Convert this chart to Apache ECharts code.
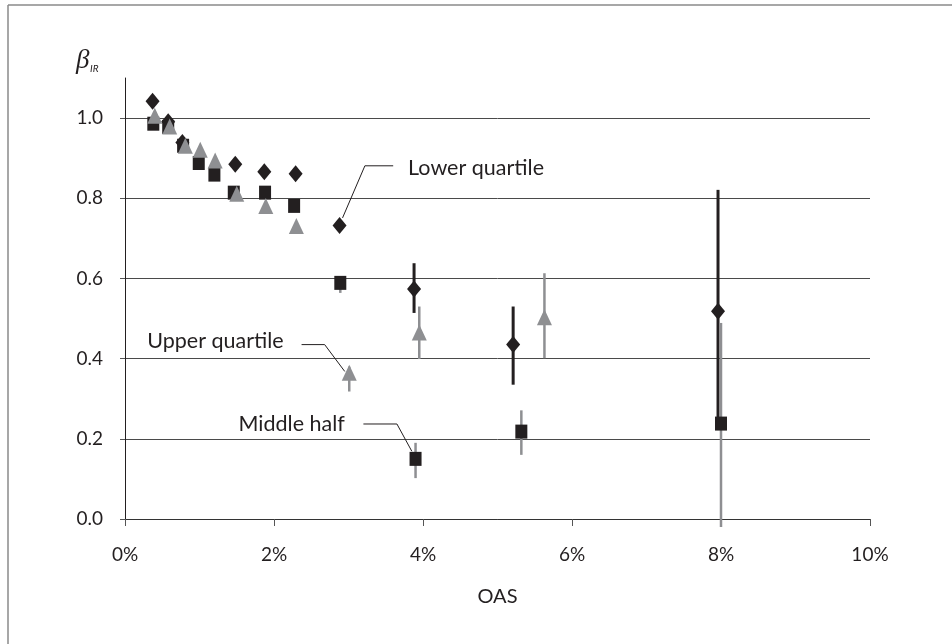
<!DOCTYPE html>
<html>
<head>
<meta charset="utf-8">
<title>Interest-rate beta by OAS</title>
<script src="https://cdn.jsdelivr.net/npm/echarts@6/dist/echarts.min.js"></script>
<style>
  html, body { margin: 0; padding: 0; background: #fff; }
  #chart { width: 952px; height: 644px; }
</style>
</head>
<body>
<div id="chart"></div>
<script>
// Lower quartile (diamonds)
const oasLower  = [0.37, 0.58, 0.77, 1.48, 1.87, 2.29, 2.88, 3.88, 5.21, 7.96];
const betaLower = [1.042, 0.991, 0.939, 0.885, 0.866, 0.861, 0.732, 0.574, 0.435, 0.518];
const lowerBarX    = [3.88, 5.21, 7.96];
const lowerBarLow  = [0.514, 0.335, 0.235];
const lowerBarHigh = [0.638, 0.530, 0.821];

// Middle half (squares)
const oasMiddle  = [0.38, 0.58, 0.78, 0.99, 1.20, 1.46, 1.88, 2.27, 2.89, 3.90, 5.32, 8.00];
const betaMiddle = [0.986, 0.978, 0.931, 0.888, 0.859, 0.814, 0.814, 0.781, 0.589, 0.150, 0.218, 0.238];
const middleBarX    = [2.89, 3.90, 5.32, 8.00];
const middleBarLow  = [0.564, 0.102, 0.160, -0.02];
const middleBarHigh = [0.600, 0.190, 0.271, 0.489];

// Upper quartile (triangles)
const oasUpper  = [0.40, 0.60, 0.81, 1.01, 1.21, 1.50, 1.89, 2.30, 3.01, 3.95, 5.63];
const betaUpper = [1.006, 0.979, 0.931, 0.921, 0.894, 0.811, 0.781, 0.731, 0.365, 0.465, 0.503];
const upperBarX    = [3.01, 3.95, 5.63];
const upperBarLow  = [0.318, 0.399, 0.401];
const upperBarHigh = [0.380, 0.530, 0.613];

// Axis ticks
const xTicks = [0, 2, 4, 6, 8, 10];
const yTicks = [0, 0.2, 0.4, 0.6, 0.8, 1.0];

// Callout labels and their leader lines (in axis units)
const noteText   = ['Lower quartile', 'Upper quartile', 'Middle half'];
const noteAnchor = [[3.80, 0.876], [2.13, 0.443], [2.95, 0.237]];
const noteAlign  = ['left', 'right', 'right'];
const notePath   = [
  [[3.60, 0.881], [3.22, 0.881], [2.92, 0.751]],
  [[2.37, 0.435], [2.68, 0.435], [2.95, 0.368]],
  [[3.20, 0.237], [3.65, 0.237], [3.85, 0.169]]
];

const BLACK = '#231f20';
const GREY = '#8e8f92';
const FONT = 'Lato';

const zip = (a, b) => a.map((v, i) => [v, b[i]]);

function errorBars(name, xs, lows, highs, color, width, z) {
  return {
    name: name,
    type: 'custom',
    z: z,
    clip: false,
    silent: true,
    encode: { x: 0, y: [1, 2] },
    data: xs.map((x, i) => [x, lows[i], highs[i]]),
    renderItem: function (params, api) {
      const a = api.coord([api.value(0), api.value(1)]);
      const b = api.coord([api.value(0), api.value(2)]);
      return {
        type: 'line',
        shape: { x1: a[0], y1: a[1], x2: b[0], y2: b[1] },
        style: { stroke: color, lineWidth: width }
      };
    }
  };
}

const chart = echarts.init(document.getElementById('chart'), null, { renderer: 'canvas' });

chart.setOption({
  animation: false,
  backgroundColor: '#ffffff',
  textStyle: { fontFamily: FONT },
  grid: { left: 125, right: 82, top: 78, bottom: 125, containLabel: false },
  xAxis: {
    type: 'value',
    min: 0, max: 10, interval: 2,
    name: 'OAS',
    nameLocation: 'middle',
    nameGap: 68,
    nameTextStyle: { fontFamily: FONT, fontSize: 20, color: BLACK },
    axisLine: { show: true, lineStyle: { color: '#333', width: 1 } },
    axisTick: { show: true, length: 7, customValues: xTicks, lineStyle: { color: '#555' } },
    axisLabel: {
      margin: 26, fontSize: 19, color: BLACK, fontFamily: FONT,
      customValues: xTicks,
      formatter: v => v + '%'
    },
    splitLine: { show: false }
  },
  yAxis: {
    type: 'value',
    min: 0, max: 1.1, interval: 0.2,
    axisLine: { show: true, onZero: false, lineStyle: { color: BLACK, width: 1 } },
    axisTick: { show: true, length: 5, customValues: yTicks, lineStyle: { color: '#555' } },
    axisLabel: {
      margin: 22, fontSize: 19, color: BLACK, fontFamily: FONT,
      customValues: yTicks,
      formatter: v => v.toFixed(1)
    },
    splitLine: { show: true, lineStyle: { color: '#4a4a4a', width: 1 } }
  },
  graphic: [
    { type: 'line', shape: { x1: 8, y1: 5, x2: 952, y2: 5 }, style: { stroke: '#8a8a8a', lineWidth: 1.5 } },
    { type: 'line', shape: { x1: 8, y1: 5, x2: 8, y2: 644 }, style: { stroke: '#8a8a8a', lineWidth: 1.5 } },
    {
      type: 'text', left: 76, top: 47,
      style: { text: 'β', font: 'italic 27px "Liberation Serif", serif', fill: BLACK }
    },
    {
      type: 'text', left: 90, top: 64,
      style: { text: 'IR', font: 'italic 10px Lato, sans-serif', fill: BLACK }
    }
  ],
  series: [
    errorBars('Lower quartile range', lowerBarX, lowerBarLow, lowerBarHigh, BLACK, 3, 2),
    errorBars('Middle half range', middleBarX, middleBarLow, middleBarHigh, GREY, 2.5, 3),
    errorBars('Upper quartile range', upperBarX, upperBarLow, upperBarHigh, GREY, 2.5, 3),
    {
      name: 'Middle half',
      type: 'scatter',
      z: 4,
      symbol: 'rect',
      symbolSize: [12, 14],
      itemStyle: { color: BLACK, opacity: 1 },
      data: zip(oasMiddle, betaMiddle)
    },
    {
      name: 'Lower quartile',
      type: 'scatter',
      z: 5,
      symbol: 'diamond',
      symbolSize: [14, 17],
      itemStyle: { color: BLACK, opacity: 1 },
      data: zip(oasLower, betaLower)
    },
    {
      name: 'Upper quartile',
      type: 'scatter',
      z: 6,
      symbol: 'triangle',
      symbolSize: [15, 16],
      itemStyle: { color: GREY, opacity: 1 },
      data: zip(oasUpper, betaUpper)
    },
    {
      name: 'Callouts',
      type: 'custom',
      z: 7,
      clip: false,
      silent: true,
      data: noteText.map((t, i) => [noteAnchor[i][0], noteAnchor[i][1], i]),
      renderItem: function (params, api) {
        const i = params.dataIndex;
        const pts = notePath[i].map(p => api.coord(p));
        const at = api.coord(noteAnchor[i]);
        return {
          type: 'group',
          children: [
            {
              type: 'polyline',
              shape: { points: pts },
              style: { stroke: BLACK, lineWidth: 1, fill: null }
            },
            {
              type: 'text',
              x: at[0], y: at[1],
              style: {
                text: noteText[i],
                fill: BLACK,
                font: '21.5px ' + FONT,
                align: noteAlign[i],
                verticalAlign: 'middle'
              }
            }
          ]
        };
      }
    }
  ]
});
</script>
</body>
</html>
